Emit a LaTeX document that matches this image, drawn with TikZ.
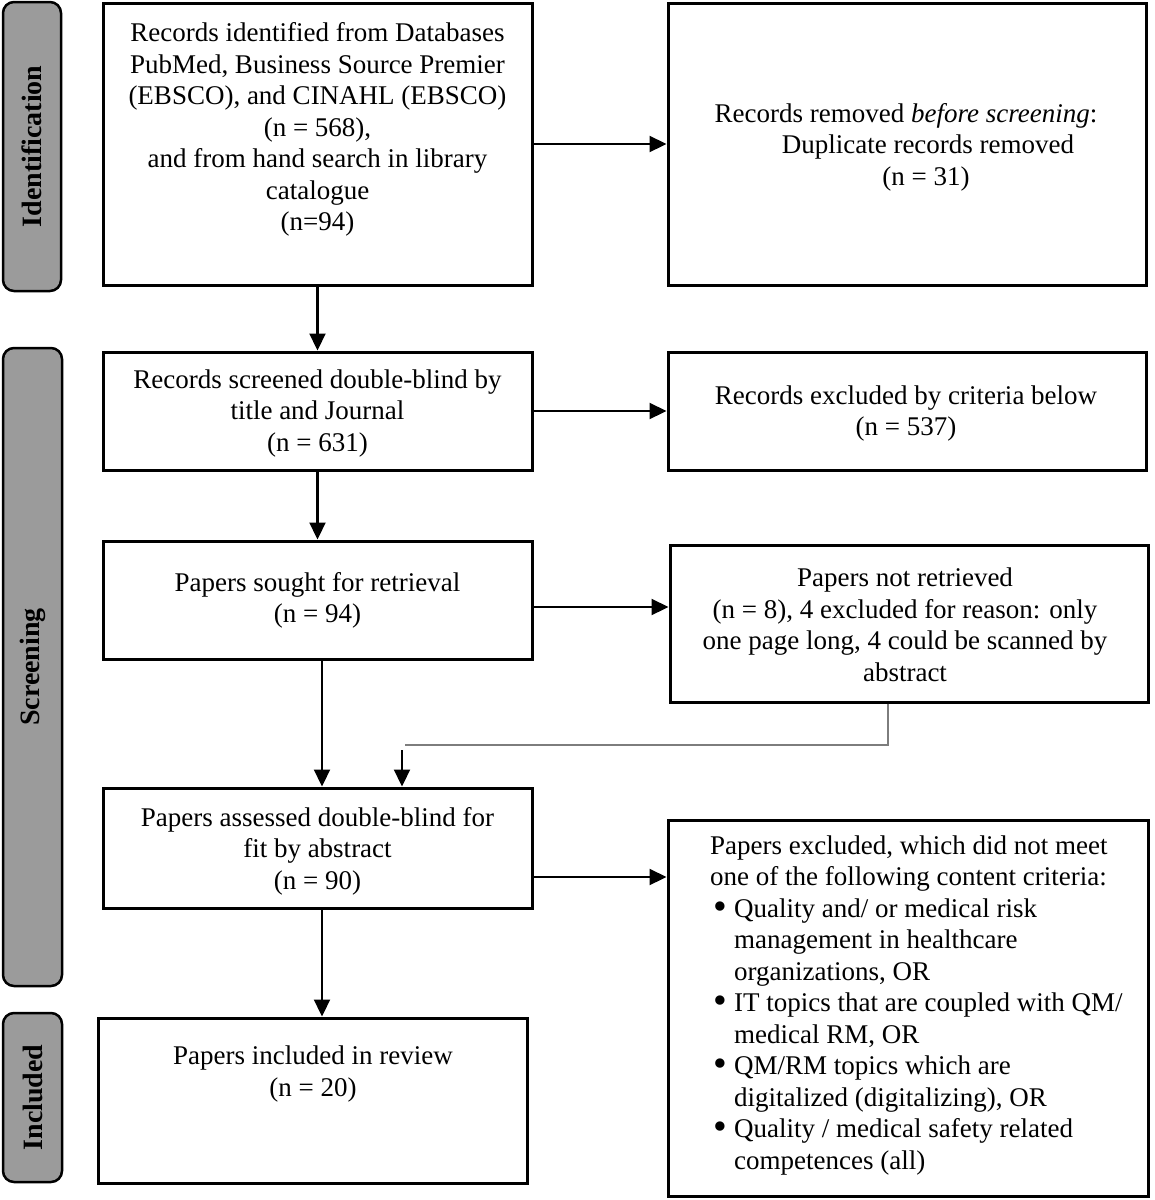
\documentclass[tikz,border=0pt]{standalone}
\usepackage{fontspec}
\usepackage{graphicx}
\setmainfont{Liberation Serif}
\usetikzlibrary{arrows.meta}
\definecolor{phasegray}{RGB}{155,155,155}
\definecolor{linkgray}{RGB}{125,125,125}
\newcommand{\mybul}{\hspace*{3pt}\makebox[21pt][l]{\raisebox{-0.08em}{\scalebox{1.45}{\textbullet}}}}
\newcommand{\myind}{\hspace*{24pt}}
\begin{document}
\begin{tikzpicture}[x=1pt,y=-1pt,
  box/.style={draw,line width=3pt,inner sep=0pt},
  txt/.style={font=\fontsize{27}{31.5}\selectfont,align=center,inner sep=0pt},
  phase/.style={draw,line width=2.5pt,fill=phasegray,rounded corners=11pt,rotate=90,inner sep=0pt,
    font=\fontsize{28}{32}\selectfont\bfseries},
  arr/.style={line width=2.2pt,-{Triangle[length=17pt,width=16pt]}},
  thin/.style={line width=1.4pt,draw=linkgray}
]
\fill[white] (0,0) rectangle (1155,1200);
\useasboundingbox (0,0) rectangle (1155,1200);

% phase labels
\node[phase,minimum width=289pt,minimum height=58pt] (P1) at (32,146.5) {Identification};
\node[phase,minimum width=638pt,minimum height=59pt] (P2) at (32.5,667) {Screening};
\node[phase,minimum width=169pt,minimum height=59pt] (P3) at (32.5,1097.5) {Included};

% boxes
\node[box,minimum width=429pt,minimum height=282pt] (A) at (317.5,144) {};
\node[box,minimum width=478pt,minimum height=282pt] (B) at (907,144) {};
\node[box,minimum width=429pt,minimum height=118pt] (C) at (317.5,411) {};
\node[box,minimum width=478pt,minimum height=118pt] (D) at (907,411) {};
\node[box,minimum width=429pt,minimum height=118pt] (E) at (317.5,600) {};
\node[box,minimum width=478pt,minimum height=157pt] (F) at (909,623.5) {};
\node[box,minimum width=429pt,minimum height=120pt] (G) at (317.5,848) {};
\node[box,minimum width=480pt,minimum height=376pt] (H) at (908,1008) {};
\node[box,minimum width=429pt,minimum height=165pt] (I) at (312.5,1100.5) {};

% texts
\node[txt] (At) at (317.5,129.5) {Records identified from Databases\\PubMed, Business Source Premier\\(EBSCO), and CINAHL (EBSCO)\\(n = 568),\\and from hand search in library\\catalogue\\(n=94)};
\node[txt] (Bt) at (906,147) {Records removed \textit{before screening}:\\\hspace*{44pt}Duplicate records removed\\\hspace*{40pt}(n = 31)};
\node[txt] (Ct) at (317.5,413) {Records screened double-blind by\\title and Journal\\(n = 631)};
\node[txt] (Dt) at (906,413.5) {Records excluded by criteria below\\(n = 537)};
\node[txt] (Et) at (317.5,600.5) {Papers sought for retrieval\\(n = 94)};
\node[txt] (Ft) at (905,625) {Papers not retrieved\\(n = 8), 4 excluded for reason: only\\one page long, 4 could be scanned by\\abstract};
\node[txt] (Gt) at (317.5,851) {Papers assessed double-blind for\\fit by abstract\\(n = 90)};
\node[txt,align=left,anchor=west] (Ht) at (710,1005) {Papers excluded, which did not meet\\one of the following content criteria:\\\mybul Quality and/ or medical risk\\\myind management in healthcare\\\myind organizations, OR\\\mybul IT topics that are coupled with QM/\\\myind medical RM, OR\\\mybul QM/RM topics which are\\\myind digitalized (digitalizing), OR\\\mybul Quality / medical safety related\\\myind competences (all)};
\node[txt] (It) at (313,1074) {Papers included in review\\(n = 20)};

% helper coordinates
\coordinate (ey) at (0,607);
\coordinate (gx) at (322,0);
\coordinate (hy) at (0,877);
\coordinate (fx) at (888,0);
\coordinate (bend) at (405,745);
\coordinate (fgstart) at (402,750);

% connectors
\draw[arr] (A.east) -- (B.west);
\draw[arr] (A.south) -- (C.north);
\draw[arr] (C.east) -- (D.west);
\draw[arr] (C.south) -- (E.north);
\draw[arr] (E.east |- ey) -- (F.west |- ey);
\draw[arr] (E.south -| gx) -- (G.north -| gx);
\draw[thin] (F.south -| fx) |- (bend);
\draw[arr] (fgstart) -- (G.north -| fgstart);
\draw[arr] (G.east |- hy) -- (H.west |- hy);
\draw[arr] (G.south -| gx) -- (I.north -| gx);
\end{tikzpicture}
\end{document}
